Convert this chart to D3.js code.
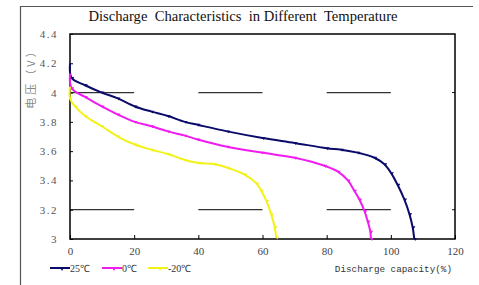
<!DOCTYPE html>
<html>
<head>
<meta charset="utf-8">
<script src="https://cdn.jsdelivr.net/npm/d3@7"></script>
<style>
  body { margin: 0; background: #fff; }
  svg { display: block; }
  text { font-family: "Liberation Serif", "Times New Roman", serif; }
</style>
</head>
<body>
<div id="chart"></div>
<script>
// values: [capacity %, voltage V]
const series25 = [[0,4.20],[0.5,4.10],[4.7,4.05],[9.9,4.0],[14.9,3.96],[20.2,3.905],[25.4,3.87],[30.5,3.84],[35.8,3.80],[39.8,3.78],[49,3.735],[60,3.69],[70,3.656],[80,3.62],[84.5,3.61],[89.6,3.59],[94.9,3.555],[98,3.51],[100.1,3.45],[102.1,3.37],[104.2,3.27],[105.8,3.17],[106.8,3.08],[107.3,3.0]];
const series0 = [[0,4.13],[0.5,4.03],[4.7,3.97],[9.9,3.905],[14.9,3.85],[20.2,3.80],[25.4,3.77],[30.5,3.735],[35.8,3.706],[39.8,3.68],[49,3.63],[59.7,3.59],[70,3.555],[79.3,3.50],[83.5,3.46],[86.6,3.40],[88.6,3.33],[90.2,3.27],[91.8,3.19],[92.8,3.12],[93.6,3.05],[93.8,3.0]];
const seriesM20 = [[0,4.04],[0,3.96],[1.6,3.905],[4.7,3.84],[9.9,3.77],[14.9,3.70],[20.2,3.645],[25.4,3.61],[30.5,3.58],[35.8,3.54],[39.8,3.52],[45.1,3.51],[49.1,3.487],[54.4,3.44],[58.1,3.38],[59.6,3.33],[61.2,3.26],[62.7,3.17],[63.8,3.08],[64.3,3.01]];
const seriesNames = ["25℃", "0℃", "-20℃"];
const seriesColors = ["#0a0a6a", "#f01cf0", "#f2f21a"];
const xTicks = [0, 20, 40, 60, 80, 100, 120];
const yTicks = [3, 3.2, 3.4, 3.6, 3.8, 4, 4.2, 4.4];
const yTickLabels = ["3", "3.2", "3.4", "3.6", "3.8", "4", "4.2", "4.4"];
const gridValues = [4, 3.2];

const W = 479, H = 285;
const margin = {left: 70, top: 34, right: 24, bottom: 46};
const width = W - margin.left - margin.right;
const height = H - margin.top - margin.bottom;
const serif = "'Liberation Serif', 'Times New Roman', serif";

const svg = d3.select("#chart").append("svg")
  .attr("width", W).attr("height", H);

// outer frame (top + left edges only visible)
svg.append("path")
  .attr("d", "M20.5,285 L20.5,6.5 L473,6.5")
  .attr("fill", "none").attr("stroke", "#555").attr("stroke-width", 1.2);

svg.append("text")
  .attr("x", 243).attr("y", 21)
  .attr("text-anchor", "middle")
  .attr("font-size", 14.6)
  .attr("fill", "#111")
  .attr("xml:space", "preserve")
  .text("Discharge  Characteristics  in Different  Temperature");

const g = svg.append("g")
  .attr("transform", "translate(" + margin.left + "," + margin.top + ")");

const x = d3.scaleLinear().domain([0, 120]).range([0, width]);
const y = d3.scaleLinear().domain([3, 4.4]).range([height, 0]);

// long-dash grid lines at 4 and 3.2
const dash = x(20) - x(0);
g.selectAll(".grid").data(gridValues).enter().append("line")
  .attr("x1", 0).attr("x2", width)
  .attr("y1", d => y(d)).attr("y2", d => y(d))
  .attr("stroke", "#333").attr("stroke-width", 1.3)
  .attr("stroke-dasharray", dash + "," + dash);

// right side small ticks at grid values
g.selectAll(".rtick").data(gridValues).enter().append("line")
  .attr("x1", width - 3).attr("x2", width)
  .attr("y1", d => y(d)).attr("y2", d => y(d))
  .attr("stroke", "#111");

// axes
const xAxis = g.append("g")
  .attr("transform", "translate(0," + height + ")")
  .call(d3.axisBottom(x).tickValues(xTicks).tickSizeInner(-4).tickSizeOuter(0).tickPadding(8));
xAxis.attr("font-family", serif);
xAxis.select(".domain").remove();
xAxis.selectAll("text").attr("font-size", 11).attr("fill", "#444");

const yAxis = g.append("g")
  .call(d3.axisLeft(y).tickValues(yTicks).tickFormat((d, i) => yTickLabels[i])
    .tickSizeInner(-3).tickSizeOuter(0).tickPadding(12));
yAxis.attr("font-family", serif);
yAxis.select(".domain").remove();
yAxis.selectAll("text").attr("font-size", 11).attr("fill", "#555")
  .attr("letter-spacing", 1.5);

// plot frame
g.append("rect")
  .attr("x", 0).attr("y", 0).attr("width", width).attr("height", height)
  .attr("fill", "none").attr("stroke", "#000").attr("stroke-width", 1.5);

// curves
const allSeries = [series25, series0, seriesM20];
const tri = d3.symbol().type(d3.symbolTriangle).size(5);
const line = d3.line().x(d => x(d[0])).y(d => y(d[1])).curve(d3.curveCatmullRom);

allSeries.forEach((s, i) => {
  g.append("path")
    .datum(s)
    .attr("fill", "none")
    .attr("stroke", seriesColors[i])
    .attr("stroke-width", 2)
    .attr("d", line);
  g.selectAll(".m" + i).data(s.slice(1)).enter().append("path")
    .attr("d", tri)
    .attr("transform", d => "translate(" + (x(d[0]) + 1) + "," + y(d[1]) + ") rotate(180)")
    .attr("fill", seriesColors[i]);
});

// y axis title (rotated)
svg.append("text")
  .attr("transform", "translate(35,76) rotate(-90)")
  .attr("text-anchor", "middle")
  .attr("font-size", 11)
  .attr("fill", "#888")
  .attr("letter-spacing", 3)
  .style("font-family", "'Noto Sans CJK SC', sans-serif")
  .text("电压（V）");

// legend
const legendX = [50, 102, 148];
const legend = svg.append("g");
seriesNames.forEach((name, i) => {
  const lx = legendX[i];
  legend.append("line")
    .attr("x1", lx).attr("x2", lx + 20)
    .attr("y1", 268).attr("y2", 268)
    .attr("stroke", seriesColors[i]).attr("stroke-width", 2);
  legend.append("path")
    .attr("d", tri)
    .attr("transform", "translate(" + (lx + 12) + ",269) rotate(180)")
    .attr("fill", seriesColors[i]);
  legend.append("text")
    .attr("x", lx + 20).attr("y", 272)
    .attr("font-size", 10)
    .attr("fill", "#333")
    .text(name);
});

svg.append("text")
  .attr("x", 452).attr("y", 272)
  .attr("text-anchor", "end")
  .attr("font-size", 9.3)
  .attr("fill", "#333")
  .style("font-family", "'Liberation Mono', monospace")
  .text("Discharge capacity(%)");
</script>
</body>
</html>
